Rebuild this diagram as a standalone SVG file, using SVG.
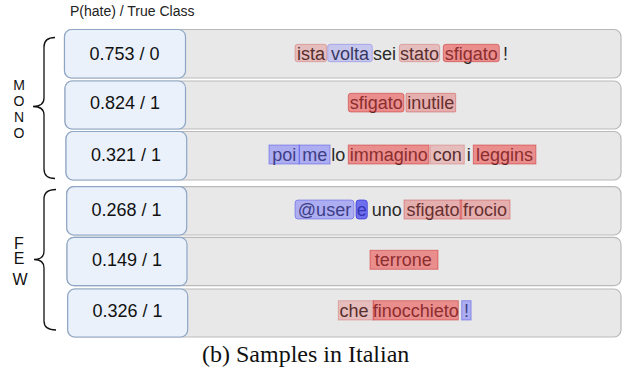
<svg xmlns="http://www.w3.org/2000/svg" width="628" height="375" viewBox="0 0 628 375">
<style>
.row{fill:#e8e8e8;stroke:#b9b9b9;stroke-width:1.2}
.score{fill:#eaf1fb;stroke:#8ea6c6;stroke-width:1.2}
.num{font-family:"Liberation Sans",Arial,sans-serif;font-size:18px;fill:#111;text-anchor:middle}
.w{font-family:"Liberation Sans",Arial,sans-serif;font-size:18px;fill:#2a2a2a;text-anchor:middle}
.hdr{font-family:"Liberation Sans",Arial,sans-serif;font-size:14px;fill:#222}
.lab{font-family:"Liberation Sans",Arial,sans-serif;font-size:14px;fill:#111;text-anchor:middle}
.lab2{font-family:"Liberation Sans",Arial,sans-serif;font-size:16px;fill:#111;text-anchor:middle}
.cap{font-family:"Liberation Serif","Times New Roman",serif;font-size:24px;fill:#111}
.r1{fill:rgba(220,60,60,0.25);stroke:rgba(200,60,60,0.3);stroke-width:1}
.r2{fill:rgba(235,50,50,0.5);stroke:rgba(200,40,40,0.5);stroke-width:1}
.r3{fill:rgba(225,60,60,0.33);stroke:rgba(200,50,50,0.4);stroke-width:1}
.b1{fill:rgba(100,100,255,0.25);stroke:rgba(90,90,230,0.35);stroke-width:1}
.b2{fill:rgba(90,90,255,0.42);stroke:rgba(80,80,230,0.5);stroke-width:1}
.b3{fill:rgba(60,60,240,0.7);stroke:rgba(50,50,220,0.7);stroke-width:1}
.brace{fill:none;stroke:#111;stroke-width:1.3}
</style>

<text class="hdr" x="70" y="16">P(hate) / True Class</text>

<g id="braces">
<path class="brace" d="M55,37.5 Q44,37.5 44,47 L44,98 Q44,106.5 33,106.5 Q44,106.5 44,115 L44,169 Q44,178.5 55,178.5"/>
<path class="brace" d="M56,189.5 Q44,189.5 44,199 L44,251 Q44,259.5 34,259.5 Q44,259.5 44,268 L44,321 Q44,330 56,330"/>
</g>

<g id="label-mono">
<text class="lab" x="19" y="90">M</text>
<text class="lab" x="19" y="106">O</text>
<text class="lab" x="19" y="122">N</text>
<text class="lab" x="19" y="137.5">O</text>
</g>
<g id="label-few">
<text class="lab2" x="19" y="248.8">F</text>
<text class="lab2" x="19" y="264.3">E</text>
<text class="lab2" x="20" y="284.8">W</text>
</g>

<g id="row1">
<rect class="row" x="64.5" y="29.5" width="556.5" height="48.5" rx="7"/>
<rect class="score" x="64.5" y="29.5" width="121" height="48.5" rx="7"/>
<text class="num" x="124.5" y="59.5">0.753 / 0</text>
<text class="w" x="311" y="59.5">ista</text>
<text class="w" x="350" y="59.5">volta</text>
<text class="w" x="384.5" y="59.5">sei</text>
<text class="w" x="419.5" y="59.5">stato</text>
<text class="w" x="471.3" y="59.5">sfigato</text>
<text class="w" x="505.5" y="59.5">!</text>
<rect class="r1" x="295" y="44.3" width="31.7" height="17.4" rx="2.5"/>
<rect class="b1" x="327.7" y="44.3" width="44.6" height="17.4" rx="2.5"/>
<rect class="r1" x="399.3" y="44.3" width="40.4" height="17.4" rx="2.5"/>
<rect class="r2" x="443.3" y="44.3" width="56" height="17.4" rx="2.5"/>
</g>

<g id="row2">
<rect class="row" x="65" y="81" width="556" height="48" rx="7"/>
<rect class="score" x="65" y="81" width="120.5" height="48" rx="7"/>
<text class="num" x="125" y="109">0.824 / 1</text>
<text class="w" x="376.2" y="109">sfigato</text>
<text class="w" x="430.8" y="109">inutile</text>
<rect class="r2" x="348.3" y="93.3" width="55.7" height="18.7" rx="2.5"/>
<rect class="r3" x="406" y="93.3" width="49.7" height="18.7" rx="1"/>
</g>

<g id="row3">
<rect class="row" x="66" y="131.5" width="555" height="48.5" rx="7"/>
<rect class="score" x="66" y="131.5" width="120.7" height="48.5" rx="7"/>
<text class="num" x="126" y="160.5">0.321 / 1</text>
<text class="w" x="284.2" y="160.5">poi</text>
<text class="w" x="314.7" y="160.5">me</text>
<text class="w" x="338.3" y="160.5">lo</text>
<text class="w" x="388.7" y="160.5">immagino</text>
<text class="w" x="447.3" y="160.5">con</text>
<text class="w" x="468.7" y="160.5">i</text>
<text class="w" x="504.6" y="160.5">leggins</text>
<rect class="b2" x="269" y="145" width="30.3" height="19"/>
<rect class="b2" x="299.3" y="145" width="30.7" height="19"/>
<rect class="r2" x="348.3" y="145" width="80.7" height="19"/>
<rect class="r1" x="430.3" y="145" width="34" height="19"/>
<rect class="r2" x="473.3" y="145" width="62.6" height="19"/>
</g>

<g id="row4">
<rect class="row" x="66.7" y="186.7" width="554.3" height="48.3" rx="7"/>
<rect class="score" x="66.7" y="186.7" width="120" height="48.3" rx="7"/>
<text class="num" x="126.5" y="215.5">0.268 / 1</text>
<text class="w" x="324.5" y="215.5">@user</text>
<text class="w" x="361.7" y="215.5">e</text>
<text class="w" x="386.7" y="215.5">uno</text>
<text class="w" x="432.9" y="215.5">sfigato</text>
<text class="w" x="485" y="215.5">frocio</text>
<rect class="b2" x="295" y="200" width="59" height="19" rx="3"/>
<rect class="b3" x="356" y="200" width="11.3" height="19" rx="3"/>
<rect class="r3" x="404" y="200" width="57.7" height="19"/>
<rect class="r3" x="460" y="200" width="50" height="19"/>
</g>

<g id="row5">
<rect class="row" x="67" y="237.3" width="554" height="48.4" rx="7"/>
<rect class="score" x="67" y="237.3" width="120" height="48.4" rx="7"/>
<text class="num" x="127" y="266">0.149 / 1</text>
<text class="w" x="403.3" y="266">terrone</text>
<rect class="r2" x="370" y="250.3" width="68" height="19"/>
</g>

<g id="row6">
<rect class="row" x="67.7" y="289" width="553.3" height="48" rx="7"/>
<rect class="score" x="67.7" y="289" width="120" height="48" rx="7"/>
<text class="num" x="127.5" y="317">0.326 / 1</text>
<text class="w" x="354" y="316.5">che</text>
<text class="w" x="415.8" y="316.5">finocchieto</text>
<text class="w" x="466.5" y="316.5">!</text>
<rect class="r1" x="338.3" y="300.7" width="35" height="19.3"/>
<rect class="r2" x="373.3" y="300.7" width="85" height="19.3"/>
<rect class="b2" x="461.7" y="300.7" width="9.4" height="19.3"/>
</g>

<text class="cap" x="202" y="362">(b) Samples in Italian</text>
</svg>
